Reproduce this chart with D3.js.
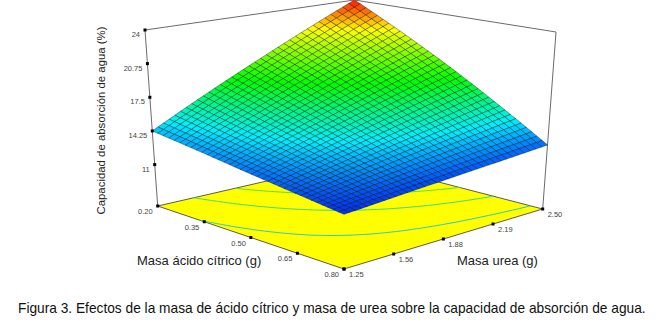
<!DOCTYPE html>
<html><head><meta charset="utf-8">
<style>html,body{margin:0;padding:0;background:#fff}svg{display:block}text{font-family:"Liberation Sans",Arial,sans-serif}</style>
<script src="https://cdnjs.cloudflare.com/ajax/libs/d3/7.8.5/d3.min.js"></script>
</head><body><svg id="c" width="655" height="324"></svg>
<script>
const acidTicks = [0.20, 0.35, 0.50, 0.65, 0.80];
const ureaTicks = [1.25, 1.5625, 1.875, 2.1875, 2.50];
const ureaLabels = ["1.25", "1.56", "1.88", "2.19", "2.50"];
const zTicks = [11, 14.25, 17.5, 20.75, 24];
const zFloor = 7;
// response read at each acid row / urea column
const z020 = [14.25, 16.65, 19.05, 21.5, 24.0];
const z035 = [13.80, 15.60, 17.45, 19.35, 21.3];
const z050 = [13.30, 14.60, 15.90, 17.25, 18.6];
const z065 = [12.85, 13.60, 14.35, 15.10, 15.85];
const z080 = [12.40, 12.60, 12.78, 12.96, 13.15];
const zRows = [z020, z035, z050, z065, z080];
const contourLevels = [13.85, 16, 18, 20, 22];
const contourColors = ["#22c8d8", "#30dc90", "#50e040", "#80e020", "#c0e010"];
const colorStops = [12.2, 14.9, 18.0, 21.7, 24.0];
const colorValues = ["#0020ff", "#00f0ff", "#00ff00", "#ffff00", "#ff1000"];

const cellCount = 35;
const svg = d3.select("#c");

// corners in page space
const floorC = {L:[157.7,206], F:[344,269], R:[542.7,209], B:[356,160.6]};
const topC   = {L:[145,30],    F:[344,97],  R:[556,32],    B:[354.5,0]};

function bilinear(c){
  // (0,0)=L (1,0)=F (1,1)=R (0,1)=B
  return (u,v)=>[0,1].map(k=>(c.L[k]*(1-u)+c.F[k]*u)*(1-v)+(c.B[k]*(1-u)+c.R[k]*u)*v);
}
const hFloor=bilinear(floorC), hTop=bilinear(topC);
const uScale=d3.scaleLinear().domain([0.20,0.80]).range([0,1]);
const vScale=d3.scaleLinear().domain([1.25,2.50]).range([0,1]);
const zScale=d3.scaleLinear().domain([zFloor,24]).range([0,1]);
function project(a,b,z){
  const u=uScale(a),v=vScale(b),t=zScale(z);
  const p=hFloor(u,v),q=hTop(u,v);
  return [p[0]+(q[0]-p[0])*t,p[1]+(q[1]-p[1])*t];
}
const color=d3.scaleLinear().domain(colorStops).range(colorValues).clamp(true);
const rowIdx=d3.scaleLinear().domain(acidTicks).range(d3.range(5)).clamp(true);
const colIdx=d3.scaleLinear().domain(ureaTicks).range(d3.range(5)).clamp(true);
function zAt(a,b){
  const r=rowIdx(a),c=colIdx(b);
  const r0=Math.min(3,Math.floor(r)),c0=Math.min(3,Math.floor(c)),fr=r-r0,fc=c-c0;
  return (zRows[r0][c0]*(1-fc)+zRows[r0][c0+1]*fc)*(1-fr)+(zRows[r0+1][c0]*(1-fc)+zRows[r0+1][c0+1]*fc)*fr;
}
const line=d3.line();
const g=svg.append("g");

// floor
const A0=0.20,A1=0.80,B0=1.25,B1=2.50;
g.append("path").attr("d",line([project(A0,B0,zFloor),project(A1,B0,zFloor),project(A1,B1,zFloor),project(A0,B1,zFloor)])+"Z")
 .attr("fill","#ffff00").attr("stroke","#333").attr("stroke-width",0.8);

// contours on floor
const n=120;
const sa=d3.scaleLinear().domain([0.5,n-0.5]).range([A0,A1]);
const sb=d3.scaleLinear().domain([0.5,n-0.5]).range([B0,B1]);
const vals=[];
for(let j=0;j<n;j++)for(let i=0;i<n;i++)vals.push(zAt(sa(j+0.5),sb(i+0.5)));
const cont=d3.contours().size([n,n]).thresholds(contourLevels)(vals);
cont.forEach((mp,k)=>{
  let d="";
  mp.coordinates.forEach(poly=>poly.forEach(ring=>{
    for(let i=1;i<ring.length;i++){
      const P=ring[i-1],Q=ring[i];
      if([P,Q].some(p=>p[0]<0.4||p[0]>n-0.4||p[1]<0.4||p[1]>n-0.4))continue;
      const p=project(sa(P[1]),sb(P[0]),zFloor),q=project(sa(Q[1]),sb(Q[0]),zFloor);
      d+="M"+p[0].toFixed(2)+","+p[1].toFixed(2)+"L"+q[0].toFixed(2)+","+q[1].toFixed(2);
    }
  }));
  g.append("path").attr("d",d).attr("fill","none").attr("stroke",contourColors[k]).attr("stroke-width",1);
});

// frame
const frame=[project(A0,B0,zFloor),project(A0,B0,24),project(A0,B1,24),project(A1,B1,24),project(A1,B1,zFloor)];
g.append("path").attr("d",line(frame)).attr("fill","none").attr("stroke","#6a6a72").attr("stroke-width",1);

// surface mesh: back to front
const aStep=d3.range(cellCount+1).map(i=>A0+(A1-A0)*i/cellCount);
const bStep=d3.range(cellCount+1).map(i=>B0+(B1-B0)*i/cellCount);
const mesh=g.append("g").attr("stroke","#000").attr("stroke-opacity",0.42).attr("stroke-width",0.85).attr("stroke-linejoin","round");
for(let i=0;i<cellCount;i++){
  for(let j=cellCount-1;j>=0;j--){
    const a0=aStep[i],a1=aStep[i+1],b0=bStep[j],b1=bStep[j+1];
    const pts=[[a0,b0],[a1,b0],[a1,b1],[a0,b1]];
    mesh.append("path")
      .attr("d",line(pts.map(p=>project(p[0],p[1],zAt(p[0],p[1]))))+"Z")
      .attr("fill",color(zAt((a0+a1)/2,(b0+b1)/2)));
  }
}

// ticks
function dot(p){g.append("rect").attr("x",p[0]-1.5).attr("y",p[1]-1.5).attr("width",3).attr("height",3).attr("fill","#000");}
function lab(p,dx,dy,t,anchor){g.append("text").attr("x",p[0]+dx).attr("y",p[1]+dy).attr("text-anchor",anchor).attr("font-size",7.5).attr("fill","#444").text(t);}
acidTicks.forEach(a=>{const p=project(a,B0,zFloor);dot(p);lab(p,-5,8,d3.format(".2f")(a),"end");});
ureaTicks.forEach((b,i)=>{const p=project(A1,b,zFloor);dot(p);lab(p,5,8,ureaLabels[i],"start");});
zTicks.forEach(z=>{const p=project(A0,B0,z);dot(p);lab(p,-5,7,String(z),"end");});

// titles
svg.append("text").attr("transform","translate(105,120.5) rotate(-90)").attr("text-anchor","middle").attr("font-size",11.4).attr("fill","#222").text("Capacidad de absorción de agua (%)");
svg.append("text").attr("x",137).attr("y",265).attr("font-size",13).attr("fill","#222").text("Masa ácido cítrico (g)");
svg.append("text").attr("x",457).attr("y",265).attr("font-size",13).attr("fill","#222").text("Masa urea (g)");
svg.append("text").attr("x",18).attr("y",313).attr("font-size",13.72).attr("fill","#111").text("Figura 3. Efectos de la masa de ácido cítrico y masa de urea sobre la capacidad de absorción de agua.");
</script></body></html>
